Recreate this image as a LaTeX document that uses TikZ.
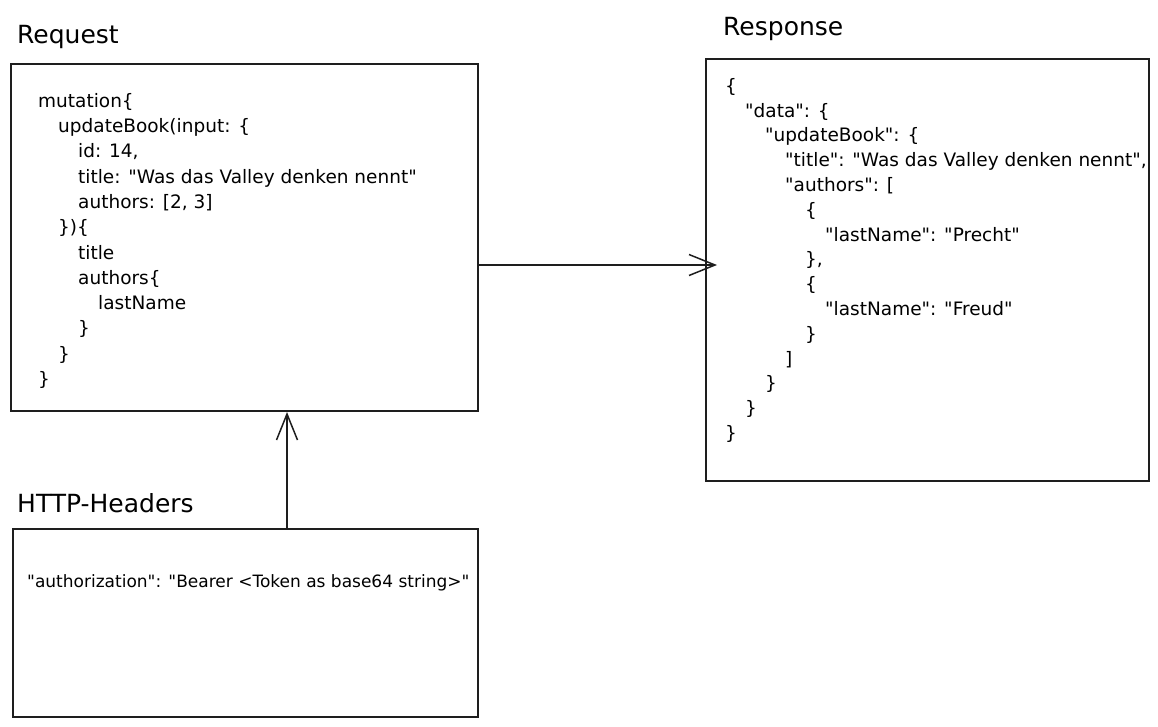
\documentclass[tikz,border=0pt]{standalone}
\usepackage{fontspec}
\setmainfont{DejaVu Sans}[Ligatures=TeXOff]
\usetikzlibrary{arrows.meta}
\definecolor{inkblack}{RGB}{30, 30, 30}
\newlength{\codeindent}
\setlength{\codeindent}{20pt}
\newcommand{\lvl}[1]{\hspace*{#1\codeindent}}

\begin{document}
\begin{tikzpicture}[
    x=1pt, y=-1pt,
    panel/.style={draw=inkblack, line width=1.5pt, inner sep=0pt, anchor=north west},
    code/.style={anchor=north west, inner sep=0pt, align=left, font=\fontsize{18.5}{25.3}\selectfont},
    caption/.style={anchor=base west, inner sep=0pt, font=\fontsize{25}{30}\selectfont},
    % Style for the open arrows between the boxes
    flow/.style={draw=inkblack, line width=1.5pt, -{Straight Barb[length=26pt, width=21pt, line width=1.5pt]}}
]
    \useasboundingbox (0,0) rectangle (1158,726);

    % Boxes
    \node[panel, minimum width=467pt, minimum height=347pt] (req) at (10,63) {};
    \node[panel, minimum width=443pt, minimum height=422pt] (res) at (705,58) {};
    \node[panel, minimum width=465pt, minimum height=188pt] (hdr) at (12,528) {};

    % Titles
    \node[caption] (reqtitle) at (17,43) {Request};
    \node[caption] (restitle) at (723,35) {Response};
    \node[caption] (hdrtitle) at (17,512) {HTTP-Headers};

    % Request body
    \node[code] (reqcode) at (38,93) {
        \lvl{0}mutation\{\\
        \lvl{1}updateBook(input: \{\\
        \lvl{2}id: 14,\\
        \lvl{2}title: "Was das Valley denken nennt"\\
        \lvl{2}authors: [2, 3]\\
        \lvl{1}\})\{\\
        \lvl{2}title\\
        \lvl{2}authors\{\\
        \lvl{3}lastName\\
        \lvl{2}\}\\
        \lvl{1}\}\\
        \lvl{0}\}};

    % Response body
    \node[code, font=\fontsize{18.5}{24.8}\selectfont] (rescode) at (725,78) {
        \lvl{0}\{\\
        \lvl{1}"data": \{\\
        \lvl{2}"updateBook": \{\\
        \lvl{3}"title": "Was das Valley denken nennt",\\
        \lvl{3}"authors": [\\
        \lvl{4}\{\\
        \lvl{5}"lastName": "Precht"\\
        \lvl{4}\},\\
        \lvl{4}\{\\
        \lvl{5}"lastName": "Freud"\\
        \lvl{4}\}\\
        \lvl{3}]\\
        \lvl{2}\}\\
        \lvl{1}\}\\
        \lvl{0}\}};

    % Header body
    \node[code, anchor=base west, font=\fontsize{17}{20}\selectfont] (hdrcode) at (27,587) {"authorization": "Bearer <Token as base64 string>"};

    % Arrow ends
    \coordinate (resin) at (717,265);
    \coordinate (reqin) at (287,412);

    % Connectors
    \draw[flow] (req.east |- resin) -- (resin);
    \draw[flow] (hdr.north -| reqin) -- (reqin);

\end{tikzpicture}
\end{document}
